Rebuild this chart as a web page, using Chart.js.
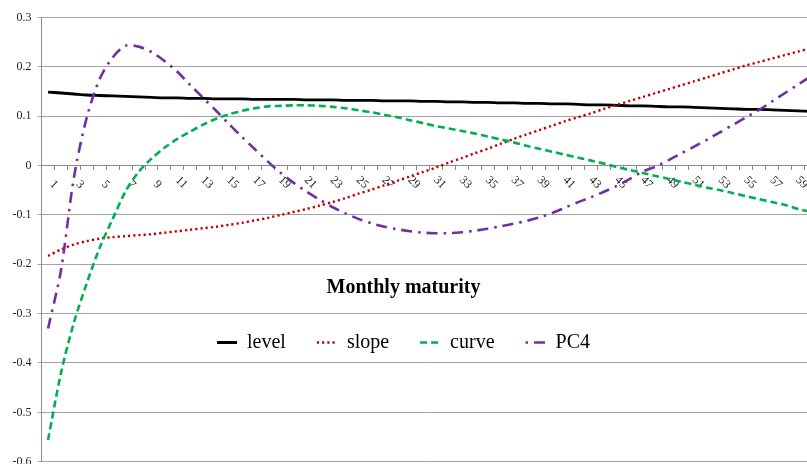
<!DOCTYPE html>
<html>
<head>
<meta charset="utf-8">
<script src="https://cdn.jsdelivr.net/npm/chart.js@4.4.1/dist/chart.umd.min.js"></script>
<style>
  html, body { margin: 0; padding: 0; background: #ffffff; }
  #wrap { position: relative; width: 807px; height: 464px; overflow: hidden; }
  canvas { display: block; }
</style>
</head>
<body>
<div id="wrap"><canvas id="chart" width="818" height="547"></canvas></div>
<script>
// Maturity in months (category axis)
const maturities = [1, 2, 3, 4, 5, 6, 7, 8, 9, 10, 11, 12, 13, 14, 15, 16, 17, 18, 19, 20,
  21, 22, 23, 24, 25, 26, 27, 28, 29, 30, 31, 32, 33, 34, 35, 36, 37, 38, 39, 40,
  41, 42, 43, 44, 45, 46, 47, 48, 49, 50, 51, 52, 53, 54, 55, 56, 57, 58, 59, 60];

// Factor loadings per maturity
const level = [0.149, 0.147, 0.145, 0.143, 0.142, 0.141, 0.140, 0.139, 0.138, 0.137,
  0.137, 0.136, 0.136, 0.135, 0.135, 0.135, 0.134, 0.134, 0.134, 0.134,
  0.133, 0.133, 0.133, 0.132, 0.132, 0.132, 0.131, 0.131, 0.131, 0.130,
  0.130, 0.129, 0.129, 0.128, 0.128, 0.127, 0.127, 0.126, 0.126, 0.125,
  0.125, 0.124, 0.123, 0.123, 0.122, 0.121, 0.121, 0.120, 0.119, 0.119,
  0.118, 0.117, 0.116, 0.115, 0.114, 0.114, 0.113, 0.112, 0.111, 0.110];

const slope = [-0.183, -0.170, -0.160, -0.153, -0.148, -0.145, -0.143, -0.141, -0.139, -0.136,
  -0.133, -0.130, -0.127, -0.124, -0.120, -0.116, -0.111, -0.106, -0.100, -0.094,
  -0.088, -0.081, -0.074, -0.066, -0.057, -0.049, -0.040, -0.031, -0.022, -0.013,
  -0.004, 0.006, 0.015, 0.025, 0.034, 0.044, 0.054, 0.063, 0.072, 0.081,
  0.090, 0.098, 0.106, 0.115, 0.123, 0.131, 0.139, 0.147, 0.155, 0.163,
  0.171, 0.179, 0.187, 0.195, 0.203, 0.210, 0.217, 0.224, 0.231, 0.238];

const curve = [-0.556, -0.420, -0.318, -0.238, -0.166, -0.108, -0.052, -0.013, 0.014, 0.036,
  0.054, 0.069, 0.083, 0.095, 0.104, 0.111, 0.116, 0.120, 0.121, 0.122,
  0.122, 0.121, 0.119, 0.116, 0.112, 0.108, 0.103, 0.098, 0.092, 0.086,
  0.080, 0.075, 0.070, 0.065, 0.059, 0.053, 0.047, 0.040, 0.034, 0.028,
  0.022, 0.016, 0.010, 0.004, -0.003, -0.009, -0.015, -0.021, -0.027, -0.033,
  -0.039, -0.045, -0.050, -0.056, -0.062, -0.068, -0.074, -0.080, -0.088, -0.094];

const pc4 = [-0.330, -0.212, -0.024, 0.098, 0.176, 0.219, 0.243, 0.241, 0.230, 0.212,
  0.190, 0.163, 0.137, 0.111, 0.084, 0.058, 0.033, 0.008, -0.015, -0.035,
  -0.053, -0.069, -0.084, -0.097, -0.108, -0.117, -0.124, -0.129, -0.133, -0.136,
  -0.137, -0.137, -0.135, -0.132, -0.128, -0.123, -0.118, -0.112, -0.105, -0.096,
  -0.085, -0.074, -0.064, -0.053, -0.041, -0.027, -0.012, -0.002, 0.011, 0.025,
  0.039, 0.053, 0.068, 0.083, 0.098, 0.113, 0.130, 0.147, 0.164, 0.181];

const seriesNames = ['level', 'slope', 'curve', 'PC4'];

const SERIF = "'Liberation Serif', 'Times New Roman', serif";
const GRID = '#a3a3a3';
const AXIS = '#8c8c8c';

// Puts the legend (with its title) inside the plot, centred on the page
const legendPlacement = {
  id: 'legendPlacement',
  afterLayout(chart) {
    const lg = chart.legend;
    const h = lg.height;
    lg.left = 0; lg.right = 807; lg.width = 807;
    lg.top = 277.5; lg.bottom = 277.5 + h;
  }
};

const line = (label, data, color, width, dash, order) => ({
  label, data, order,
  borderColor: color, backgroundColor: color,
  borderWidth: width, borderDash: dash, borderCapStyle: 'butt',
  pointRadius: 0, pointHoverRadius: 0, fill: false, tension: 0.3
});

new Chart(document.getElementById('chart'), {
  type: 'line',
  data: {
    labels: maturities,
    datasets: [
      line(seriesNames[0], level, '#000000', 2.8, [], 4),
      line(seriesNames[1], slope, '#c00000', 2.4, [2.2, 3], 3),
      line(seriesNames[2], curve, '#00b050', 2.6, [7, 4], 2),
      line(seriesNames[3], pc4, '#7030a0', 2.6, [11, 6, 2.5, 6], 1)
    ]
  },
  options: {
    responsive: false,
    animation: false,
    layout: { padding: { left: 0, right: 0.6, top: 17.5, bottom: 0.3 } },
    scales: {
      x: {
        type: 'category',
        position: { y: 0 },
        offset: true,
        grid: { display: true, drawOnChartArea: false, drawTicks: true, tickLength: 4, offset: true, color: AXIS },
        border: { display: true, color: AXIS, width: 1 },
        ticks: {
          autoSkip: false, minRotation: -45, maxRotation: -45, labelOffset: 8, padding: 12,
          color: '#1f1f1f', font: { family: SERIF, size: 12 },
          callback(value, index) { return index % 2 === 0 ? String(maturities[index]) : ''; }
        }
      },
      y: {
        min: -0.6, max: 0.3,
        afterFit(scale) { scale.width = 41.6; },
        grid: { color: GRID, lineWidth: 1, drawTicks: true, tickLength: 4 },
        border: { display: true, color: AXIS, width: 1 },
        ticks: {
          stepSize: 0.1, padding: 6, color: '#1f1f1f', font: { family: SERIF, size: 12 },
          callback(v) { return String(Math.round(v * 10) / 10); }
        }
      }
    },
    plugins: {
      tooltip: { enabled: false },
      legend: {
        position: 'bottom',
        labels: {
          usePointStyle: true, pointStyle: 'line', pointStyleWidth: 20, padding: 31,
          color: '#000000', font: { family: SERIF, size: 20 },
          sort: (a, b) => a.datasetIndex - b.datasetIndex,
          generateLabels(chart) {
            const items = Chart.defaults.plugins.legend.labels.generateLabels(chart);
            items.forEach(it => {
              const ds = chart.data.datasets[it.datasetIndex];
              it.lineDash = ds.borderDash;
              it.lineWidth = ds.borderWidth;
              it.strokeStyle = ds.borderColor;
              it.lineDashOffset = ds.borderDash.length === 4 ? ds.borderDash[0] + ds.borderDash[1] : 0;
            });
            return items;
          }
        },
        title: {
          display: true, text: 'Monthly maturity', color: '#000000',
          font: { family: SERIF, size: 20, weight: 'bold' }, padding: { top: 0, bottom: 0 }
        }
      }
    }
  },
  plugins: [legendPlacement]
});
</script>
</body>
</html>
